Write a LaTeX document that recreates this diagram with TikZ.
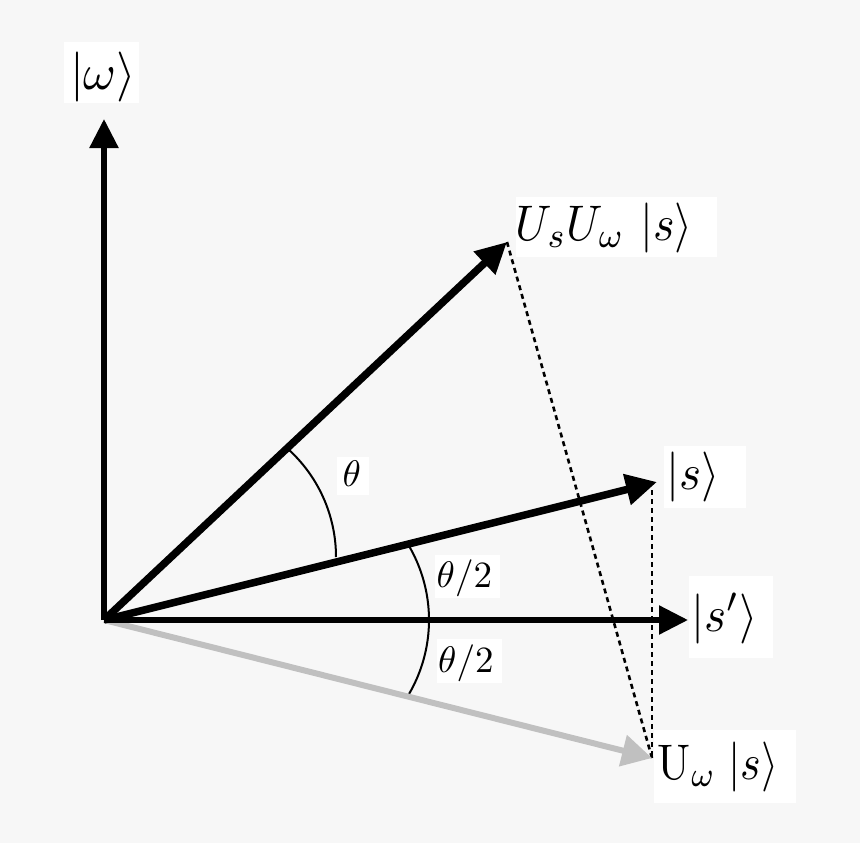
\documentclass[tikz,border=0pt]{standalone}
\usetikzlibrary{arrows.meta}
\definecolor{bgc}{RGB}{247,247,247}
\definecolor{ghost}{RGB}{192,192,192}
\begin{document}
\begin{tikzpicture}[x=1pt,y=-1pt,
  vecthin/.style={line width=5.5pt,-{Triangle[length=29pt,width=28pt]}},
  vecthick/.style={line width=7.5pt,-{Triangle[length=31pt,width=30pt]}},
  vecghost/.style={line width=6pt,ghost,-{Triangle[length=30pt,width=31pt]}},
  dots/.style={line width=2.6pt,dash pattern=on 5pt off 4pt},
  arcline/.style={line width=2pt},
  labbox/.style={fill=white},
  lab/.style={inner sep=0pt,anchor=base west}]
\useasboundingbox (0,0) rectangle (860,843);
\fill[bgc] (0,0) rectangle (860,843);
% label backgrounds
\fill[labbox] (64,42) rectangle (139,103);
\fill[labbox] (516,197) rectangle (717,257);
\fill[labbox] (664,446) rectangle (746,508);
\fill[labbox] (689,576) rectangle (773,658);
\fill[labbox] (654,730) rectangle (796,803);
\fill[labbox] (337,457) rectangle (369,495);
\fill[labbox] (435,555) rectangle (500,598);
\fill[labbox] (437,639) rectangle (502,683);
% points
\coordinate (O) at (104,620);
\coordinate (W) at (104,119);
\coordinate (A) at (507,242);
\coordinate (S) at (657,482);
\coordinate (Sd) at (652,490);
\coordinate (Sp) at (688,620);
\coordinate (G) at (652,758);
% dotted projections
\draw[dots] (A) -- (G);
\draw[dots] (Sd) -- (G);
% arcs
\draw[arcline] plot[domain=48:0,samples=40] ({190.5+145.5*cos(\x)},{557-145.5*sin(\x)});
\draw[arcline] plot[domain=30.2:-30.2,samples=40] ({282+147*cos(\x)},{620-147*sin(\x)});
% vectors
\draw[vecghost] (O) -- (G);
\draw[vecthin] (O) -- (W);
\draw[vecthin] (O) -- (Sp);
\draw[vecthick] (O) -- (S);
\draw[vecthick] (O) -- (A);
% labels
\node[lab,xscale=5,yscale=5] (lw) at (69,89.5) {$|\omega\rangle$};
\node[lab,xscale=4.6,yscale=5] (lusuw) at (515,240) {$U_sU_\omega\mkern6mu|s\rangle$};
\node[lab,xscale=4.7,yscale=5] (ls) at (665.5,489) {$|s\rangle$};
\node[lab,xscale=4.7,yscale=5] (lsp) at (690.5,631) {$|s'\rangle$};
\node[lab,xscale=4.4,yscale=5] (luw) at (657,779) {$\mathrm{U}_\omega\;|s\rangle$};
\node[lab,scale=3.7] (lt) at (342,486) {$\theta$};
\node[lab,scale=3.7] (lt1) at (436,587) {$\theta/2$};
\node[lab,scale=3.7] (lt2) at (437.5,672) {$\theta/2$};
\end{tikzpicture}
\end{document}
